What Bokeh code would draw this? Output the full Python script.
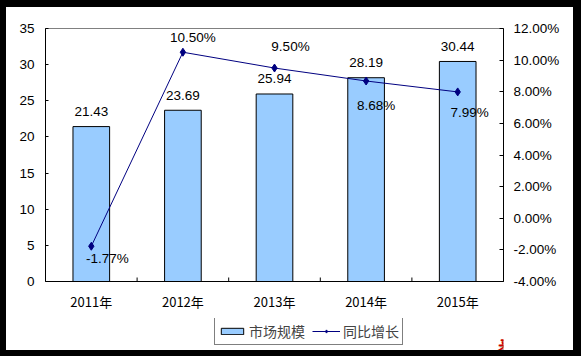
import math
from bokeh.plotting import figure
from bokeh.layouts import column
from bokeh.models import (Range1d, LinearAxis, FactorRange, ColumnDataSource, Legend,
                          LegendItem, Label, FixedTicker)
from bokeh.transform import dodge
from bokeh.core.properties import value
from bokeh.embed import file_html
from bokeh.resources import INLINE

# ---- data ----
years = ["2011年", "2012年", "2013年", "2014年", "2015年"]
market = [21.43, 23.69, 25.94, 28.19, 30.44]
growth = [-1.77, 10.50, 9.50, 8.68, 7.99]
left_ticks = [0, 5, 10, 15, 20, 25, 30, 35]
right_ticks = [-4, -2, 0, 2, 4, 6, 8, 10, 12]
bar_labels = [f"{v:.2f}" for v in market]
growth_labels = [f"{v:.2f}%" for v in growth]
series_names = ["市场规模", "同比增长"]
source_text = "来源：中经纵横"

# ---- layout of labels (screen px) ----
g_dx = [16, 10, 16, 10, 12]
g_dy = [12, -15, -22, 25, 21]

FONT = "Liberation Sans"
CJK = "Noto Sans CJK SC"
BAR_FILL = "#99CCFF"
LINE_COL = "#000080"

p = figure(width=581, height=318, x_range=FactorRange(*years),
           y_range=Range1d(0, 35), output_backend="svg", toolbar_location=None,
           min_border_left=39, min_border_right=84, min_border_top=21,
           min_border_bottom=44)
p.styles = {"border-left": "6px solid black", "border-right": "8px solid black",
            "border-top": "7px solid black"}
p.extra_y_ranges = {"pct": Range1d(-4, 12)}
p.xgrid.visible = False
p.ygrid.visible = False
p.outline_line_color = "#808080"
p.background_fill_color = "white"
p.border_fill_color = "white"

# left axis
ya = p.yaxis[0]
ya.ticker = FixedTicker(ticks=left_ticks)
ya.major_tick_in = 3
ya.major_tick_out = 0
ya.minor_tick_line_color = None
ya.major_label_standoff = 11
ya.axis_line_color = "black"
ya.major_tick_line_color = "black"
ya.major_label_text_font = FONT
ya.major_label_text_font_size = "13.5px"
ya.major_label_text_color = "black"

# right axis
ra = LinearAxis(y_range_name="pct", ticker=FixedTicker(ticks=right_ticks))
ra.major_label_overrides = {t: f"{t:.2f}%" for t in right_ticks}
ra.major_tick_in = 4
ra.major_tick_out = 0
ra.minor_tick_line_color = None
ra.major_label_standoff = 10
ra.axis_line_color = "black"
ra.major_label_text_font = FONT
ra.major_label_text_font_size = "13.5px"
ra.major_label_text_color = "black"
p.add_layout(ra, "right")

# bottom axis
xa = p.xaxis[0]
xa.major_tick_in = 0
xa.major_tick_out = 0
xa.major_label_standoff = 10
xa.axis_line_color = "black"
xa.major_label_text_font = CJK
xa.major_label_text_font_size = "13px"
xa.major_label_text_color = "black"

src = ColumnDataSource(dict(x=years, m=market, g=growth, bl=bar_labels, gl=growth_labels,
                            dx=g_dx, dy=g_dy))

p.vbar(x="x", top="m", width=0.4, source=src, fill_color=BAR_FILL,
       line_color="black", line_width=1)

# category boundary ticks
tsrc = ColumnDataSource(dict(x=years[:-1], y=[0] * (len(years) - 1)))
p.ray(x=dodge("x", 0.5, range=p.x_range), y="y", length=4, length_units="screen",
      angle=math.pi / 2, source=tsrc, line_color="black", line_width=1)

p.line(x="x", y="g", source=src, y_range_name="pct", line_color=LINE_COL, line_width=1)
p.scatter(x="x", y="g", source=src, y_range_name="pct", marker="diamond",
          size=8, fill_color=LINE_COL, line_color=LINE_COL)

p.text(x="x", y="m", text="bl", source=src, y_offset=-15, text_align="center",
       text_baseline="middle", text_font=value(FONT), text_font_size="13.5px",
       text_color="black")
p.text(x="x", y="g", text="gl", source=src, y_range_name="pct", x_offset="dx",
       y_offset="dy", text_align="center", text_baseline="middle",
       text_font=value(FONT), text_font_size="13.5px", text_color="black")

# ---- bottom strip: legend + source ----
# same series drawn far outside this strip's visible range; only the legend shows
q = figure(width=581, height=38, x_range=FactorRange(*years), y_range=Range1d(1000, 1001),
           output_backend="svg", toolbar_location=None,
           x_axis_location=None, y_axis_location=None,
           min_border_left=0, min_border_right=0, min_border_top=0, min_border_bottom=0)
q.styles = {"border-left": "6px solid black", "border-right": "8px solid black",
            "border-bottom": "6px solid black"}
q.grid.visible = False
q.outline_line_color = None
q.border_fill_color = "white"
q.background_fill_color = "white"

lb = q.vbar(x="x", top="m", width=0.4, source=src, fill_color=BAR_FILL,
            line_color="black", line_width=1)
ll = q.line(x="x", y="g", source=src, line_color=LINE_COL, line_width=1)
lm = q.scatter(x="x", y="g", source=src, marker="diamond", size=8,
               fill_color=LINE_COL, line_color=LINE_COL)

legend = Legend(items=[LegendItem(label=series_names[0], renderers=[lb]),
                       LegendItem(label=series_names[1], renderers=[ll, lm])],
                orientation="horizontal", location=(169, 11),
                border_line_color="black", border_line_width=1,
                background_fill_color="white", background_fill_alpha=1,
                label_text_font=CJK, label_text_font_size="14px",
                label_height=16, glyph_width=28, glyph_height=8,
                padding=3, spacing=7, margin=0, label_standoff=3)
q.add_layout(legend)

shadow = Label(x=452, y=12, x_units="screen", y_units="screen", text=source_text,
               text_color="#A0A0A0", text_font=CJK, text_font_size="16px",
               text_font_style="bold italic", text_baseline="middle")
q.add_layout(shadow)
lab = Label(x=451, y=13, x_units="screen", y_units="screen", text=source_text,
            text_color="#CC0000", text_font=CJK, text_font_size="16px",
            text_font_style="bold italic", text_baseline="middle")
q.add_layout(lab)

layout = column(p, q, spacing=0)
open("out.html", "w").write(file_html(layout, INLINE))
